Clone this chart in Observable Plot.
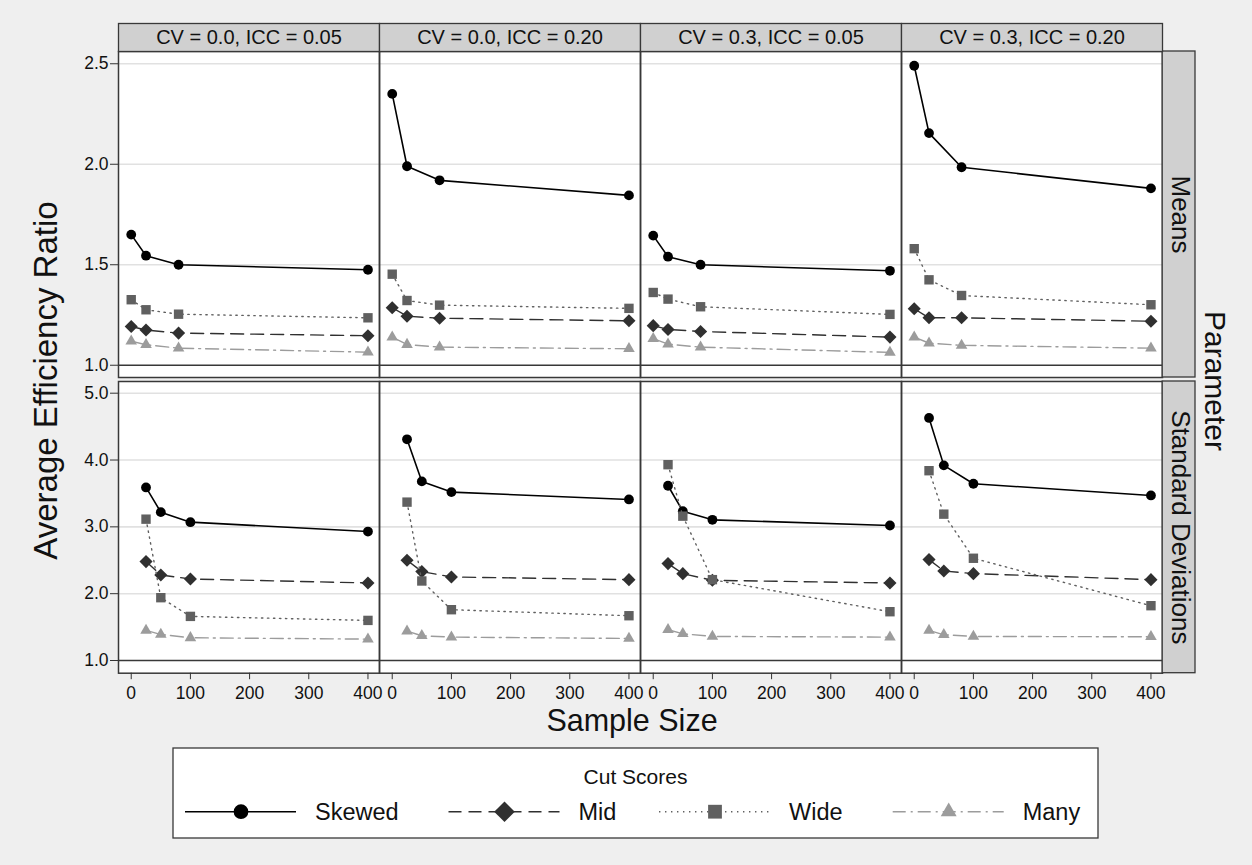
<!DOCTYPE html>
<html><head><meta charset="utf-8">
<script src="https://cdn.jsdelivr.net/npm/d3@7"></script>
<script src="https://cdn.jsdelivr.net/npm/@observablehq/plot@0.6"></script>
<style>
html,body{margin:0;padding:0;background:#efefef;}
#chart{position:relative;width:1252px;height:865px;background:#efefef;overflow:hidden;font-family:"Liberation Sans",Arial,Helvetica,sans-serif;}
#chart > svg{position:absolute;left:0;margin:0;}
</style></head>
<body><div id="chart"></div>
<script>
// ---------- data ----------
const panels = ["CV = 0.0, ICC = 0.05", "CV = 0.0, ICC = 0.20", "CV = 0.3, ICC = 0.05", "CV = 0.3, ICC = 0.20"];
const rows = ["Means", "Standard Deviations"];
const cutScores = ["Skewed", "Mid", "Wide", "Many"];
const legendTitle = "Cut Scores";
const xTitle = "Sample Size";
const yTitle = "Average Efficiency Ratio";
const rowTitle = "Parameter";
const sizesMeans = [0, 25, 80, 400];
const sizesSD = [25, 50, 100, 400];
const xTicks = [0, 100, 200, 300, 400];
const meansTicks = [1.0, 1.5, 2.0, 2.5];
const sdTicks = [1, 2, 3, 4, 5];

// one inner array per panel, values at the sample sizes above
const meansSkewed = [[1.65, 1.545, 1.50, 1.475], [2.35, 1.99, 1.92, 1.845], [1.645, 1.54, 1.50, 1.47], [2.49, 2.155, 1.985, 1.88]];
const meansMid    = [[1.193, 1.175, 1.160, 1.147], [1.286, 1.244, 1.234, 1.221], [1.197, 1.178, 1.168, 1.140], [1.281, 1.236, 1.236, 1.219]];
const meansWide   = [[1.326, 1.276, 1.254, 1.236], [1.453, 1.322, 1.299, 1.283], [1.362, 1.329, 1.291, 1.253], [1.580, 1.425, 1.347, 1.301]];
const meansMany   = [[1.120, 1.102, 1.085, 1.065], [1.140, 1.103, 1.090, 1.082], [1.132, 1.105, 1.090, 1.064], [1.140, 1.110, 1.099, 1.085]];

const sdSkewed = [[3.59, 3.22, 3.07, 2.93], [4.31, 3.68, 3.52, 3.41], [3.615, 3.235, 3.105, 3.02], [4.63, 3.92, 3.645, 3.47]];
const sdMid    = [[2.48, 2.28, 2.22, 2.16], [2.50, 2.33, 2.25, 2.21], [2.45, 2.30, 2.20, 2.16], [2.51, 2.34, 2.30, 2.21]];
const sdWide   = [[3.115, 1.94, 1.66, 1.60], [3.37, 2.19, 1.76, 1.67], [3.93, 3.16, 2.21, 1.73], [3.84, 3.19, 2.53, 1.82]];
const sdMany   = [[1.45, 1.39, 1.34, 1.32], [1.44, 1.37, 1.35, 1.33], [1.46, 1.40, 1.36, 1.35], [1.45, 1.385, 1.36, 1.355]];

// ---------- styles ----------
const seriesStyle = {
  Skewed: {color: "#000000", dash: null,          symbol: "circle",   r: 4.9, width: 1.6, legendSize: 170},
  Mid:    {color: "#303030", dash: "13,7",        symbol: "diamond2", r: 5.9, width: 1.4, legendSize: 270},
  Wide:   {color: "#606060", dash: "1.4,4.6",     symbol: "square",   r: 5.3, width: 1.4, legendSize: 190},
  Many:   {color: "#9c9c9c", dash: "13,5,2,5",    symbol: "triangle", r: 4.3, width: 1.4, legendSize: 110}
};
const W = 1252, ML = 117.3, MR = 90;
const FONT = '"Liberation Sans", Arial, Helvetica, sans-serif';

function buildTable(sizes, arrays) {
  const out = [];
  cutScores.forEach((cut, i) => {
    arrays[i].forEach((vals, p) => {
      vals.forEach((v, k) => out.push({panel: panels[p], cut, n: sizes[k], value: v}));
    });
  });
  return out;
}

function rowPlot({table, yDomain, ticks, rowLabel, height, marginTop, marginBottom, strips, xAxis}) {
  const panelH = height - marginTop - marginBottom;
  const panelW = (W - ML - MR) / panels.length;
  const marks = [
    Plot.frame({fill: "white"}),
    Plot.gridY(ticks.filter(t => t !== 1), {stroke: "#e1e1e1", strokeOpacity: 1, strokeWidth: 1.6}),
    Plot.ruleY([1], {stroke: "#383838", strokeWidth: 1.4}),
    Plot.frame({stroke: "#383838", strokeWidth: 1.5}),
    Plot.axisY(ticks, {tickFormat: d3.format(".1f"), tickSize: 8, tickPadding: 2, fontSize: 17.5, label: null, stroke: "#333"}),
    Plot.rect([rowLabel], {fx: () => panels[panels.length - 1], fill: "#d0d0d0", stroke: "#383838", strokeWidth: 1.3, insetLeft: panelW, insetRight: -33}),
    Plot.text([rowLabel], {fx: () => panels[panels.length - 1], text: d => d, frameAnchor: "right", textAnchor: "middle", lineAnchor: "middle", dx: 18, rotate: 90, fontSize: 26, fill: "#111"})
  ];
  if (strips) {
    marks.push(
      Plot.frame({fill: "#d0d0d0", stroke: "#383838", strokeWidth: 1.3, insetTop: -28, insetBottom: panelH}),
      Plot.text(panels, {fx: d => d, text: d => d, frameAnchor: "top", textAnchor: "middle", lineAnchor: "middle", dy: -14, fontSize: 20, fill: "#111"})
    );
  }
  if (xAxis) {
    marks.push(Plot.axisX(xTicks, {tickSize: 6.5, tickPadding: 7, fontSize: 17.5, label: null, stroke: "#333"}));
  }
  for (const cut of cutScores) {
    const s = seriesStyle[cut];
    const d = table.filter(r => r.cut === cut);
    marks.push(Plot.line(d, {x: "n", y: "value", fx: "panel", stroke: s.color, strokeWidth: s.width, strokeDasharray: s.dash}));
    marks.push(Plot.dot(d, {x: "n", y: "value", fx: "panel", symbol: s.symbol, r: s.r, fill: s.color, stroke: "none"}));
  }
  return Plot.plot({
    width: W, height, marginLeft: ML, marginRight: MR, marginTop, marginBottom,
    x: xAxis ? {domain: [-21.5, 419.5]} : {domain: [-21.5, 419.5], axis: null},
    y: {domain: yDomain},
    fx: {domain: panels, padding: 0, axis: null},
    style: {background: "none", fontFamily: FONT, fontSize: "17.5px", color: "#111", overflow: "visible"},
    marks
  });
}

const chart = document.getElementById("chart");

const topPlot = rowPlot({
  table: buildTable(sizesMeans, [meansSkewed, meansMid, meansWide, meansMany]),
  yDomain: [0.939, 2.561], ticks: meansTicks, rowLabel: rows[0],
  height: 380, marginTop: 51, marginBottom: 3, strips: true, xAxis: false
});
topPlot.style.top = "0px";
chart.appendChild(topPlot);

const bottomPlot = rowPlot({
  table: buildTable(sizesSD, [sdSkewed, sdMid, sdWide, sdMany]),
  yDomain: [0.81, 5.175], ticks: sdTicks, rowLabel: rows[1],
  height: 362, marginTop: 3, marginBottom: 67.3, strips: false, xAxis: true
});
bottomPlot.style.top = "378px";
chart.appendChild(bottomPlot);

// ---------- titles and legend ----------
const overlay = d3.select(chart).append("svg")
  .attr("width", W).attr("height", 865)
  .style("top", "0px").style("pointer-events", "none")
  .style("font-family", FONT).style("overflow", "visible");

overlay.append("text").attr("transform", "translate(56.5,380.5) rotate(-90)")
  .attr("text-anchor", "middle").attr("font-size", 33).attr("fill", "#111").text(yTitle);
overlay.append("text").attr("x", 632).attr("y", 731)
  .attr("text-anchor", "middle").attr("font-size", 30.5).attr("fill", "#111").text(xTitle);
overlay.append("text").attr("transform", "translate(1205,381) rotate(90)")
  .attr("text-anchor", "middle").attr("font-size", 30).attr("fill", "#111").text(rowTitle);

const lg = overlay.append("g").attr("transform", "translate(173,748)");
lg.append("rect").attr("width", 925).attr("height", 90).attr("fill", "white")
  .attr("stroke", "#383838").attr("stroke-width", 1.3);
lg.append("text").attr("x", 462.5).attr("y", 35.5).attr("text-anchor", "middle")
  .attr("font-size", 21).attr("fill", "#111").text(legendTitle);
const itemStart = [12, 275.5, 486, 719.7];
const symbolTypes = {circle: d3.symbolCircle, diamond2: d3.symbolDiamond2, square: d3.symbolSquare, triangle: d3.symbolTriangle};
cutScores.forEach((cut, i) => {
  const s = seriesStyle[cut];
  const g = lg.append("g").attr("transform", `translate(${itemStart[i]},63.7)`);
  g.append("line").attr("x1", 0).attr("x2", 111).attr("stroke", s.color)
    .attr("stroke-width", s.width).attr("stroke-dasharray", s.dash);
  g.append("path").attr("transform", "translate(56,0)")
    .attr("d", d3.symbol(symbolTypes[s.symbol], s.legendSize)()).attr("fill", s.color);
  g.append("text").attr("x", 130).attr("y", 8.3).attr("font-size", 23.5).attr("fill", "#111").text(cut);
});
</script>
</body></html>
